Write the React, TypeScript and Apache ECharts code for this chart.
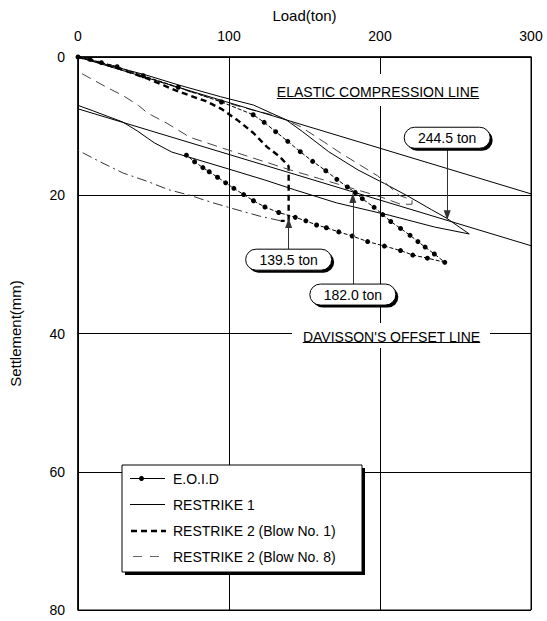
import React, { useEffect, useRef } from 'react';
import * as echarts from 'echarts';

// ---- data (load in ton, settlement in mm) ----
const loadTicks = [0, 100, 200, 300];
const settlementTicks = [0, 20, 40, 60, 80];

const eoidLoading = [
  [0, 0], [7.9, 0.33], [15.5, 0.82], [25.9, 1.4], [43.2, 2.71], [66.4, 4.38], [95, 6.51],
  [116, 8.35], [123.3, 9.45], [130.9, 10.8], [138.9, 12.2], [147.2, 13.7], [155.4, 15.1],
  [164.1, 16.45], [171.4, 17.7], [178.4, 18.8], [183.6, 19.6], [188.3, 20.5], [196.1, 21.75],
  [201.8, 22.8], [207.1, 23.8], [213.6, 24.8], [219.9, 25.8], [225.1, 26.7], [229.9, 27.5],
  [236, 28.5], [242.9, 29.7],
];
const eoidUnloading = [
  [231.4, 29.1], [221.7, 28.65], [213.6, 28.0], [202.9, 27.35], [191.8, 26.7], [181.6, 25.9],
  [172.7, 25.3], [164.5, 24.7], [158, 24.3], [150.9, 23.7], [143.9, 23.2], [132.9, 22.5],
  [123.8, 21.7], [116.2, 20.8], [109.7, 19.9], [103.2, 19.0], [97.8, 18.2], [92.4, 17.4],
  [86.9, 16.6], [82.7, 16.0], [77.2, 15.15], [71.8, 14.2],
];

const restrike1Loading = [
  [0, 0], [19.8, 1.16], [45, 2.6], [66.6, 4.05], [94.5, 5.75], [116.2, 6.95], [137.9, 9.1],
  [148.7, 10.8], [166, 13.7], [185.5, 16.35], [202.9, 18.3], [219.1, 20.2], [234.2, 22.1],
  [244, 23.3], [259.1, 25.6],
];
const restrike1Unloading = [
  [236.2, 24.6], [206.3, 22.9], [171.2, 21.1], [143.3, 19.2], [123.8, 17.8], [99.7, 16.2],
  [78.3, 14.8], [62.1, 13.75], [50.4, 12.4], [39.3, 10.7], [29.6, 9.4], [19.8, 8.6],
  [10.1, 7.8], [0, 7.0],
];

const blow1Loading = [
  [0, 0], [13.3, 0.72], [26.3, 1.6], [45, 3.04], [66.6, 5.0], [84.8, 6.4], [94.9, 7.5],
  [105.4, 9.1], [116.2, 11.0], [125.1, 13.0], [133.5, 14.4], [139.5, 15.8], [139.5, 23.7],
  [134.2, 23.7],
];
const blow1Unloading = [
  [134.2, 23.7], [120, 23.0], [102, 21.9], [88, 21.0], [74, 20.0], [60, 19.2], [46, 18.0],
  [30, 16.8], [15, 15.2], [0, 13.5],
];

const blow8Loading = [
  [0, 0], [19.8, 1.0], [45, 2.9], [66.6, 4.5], [94.5, 6.4], [116, 7.7], [132.4, 8.55],
  [147.6, 10.1], [159.5, 11.8], [173.6, 13.85], [184.4, 15.3], [198.5, 17.2], [212.6, 20.0],
  [221.2, 20.7], [221.2, 21.3], [213.6, 21.3],
];
const blow8Unloading = [
  [213.6, 21.3], [200, 20.2], [180, 18.9], [160, 17.6], [140, 16.3], [120, 14.9], [96, 13.2],
  [74, 11.6], [59, 9.6], [46, 8.1], [40, 7.0], [30, 5.6], [20, 4.5], [10, 3.3], [0, 2.1],
];

const elasticLine = [[0, 0], [300, 19.8]];
const davissonLine = [[0, 7.5], [300, 27.3]];

// failure-load annotations
const annotationLoads = [139.5, 182.0, 244.5];
const annotationLabels = ['139.5 ton', '182.0 ton', '244.5 ton'];
const arrowFrom = [27.8, 32.85, 13.2];
const arrowTo = [24.0, 20.4, 22.9];

const seriesNames = ['E.O.I.D', 'RESTRIKE 1', 'RESTRIKE 2 (Blow No. 1)', 'RESTRIKE 2 (Blow No. 8)'];

const FONT = '"Liberation Sans", Arial, Helvetica, sans-serif';

export default function App() {
  const ref = useRef<HTMLDivElement>(null);

  useEffect(() => {
    const el = ref.current as HTMLDivElement;
    const chart = echarts.init(el, null, { renderer: 'svg' });

    const base = {
      type: 'line',
      showSymbol: false,
      symbol: 'none',
      silent: true,
      emphasis: { disabled: true },
      z: 2,
    };

    const styles = {
      eoid: { color: '#000', width: 1, type: [4, 2] as number[] },
      r1: { color: '#000', width: 1 },
      b1: { color: '#000', width: 2.4, type: [6, 4] as number[] },
      b1u: { color: '#333', width: 1, type: [10, 4, 2, 4] as number[] },
      b8: { color: '#444', width: 1, type: [10, 6] as number[] },
    };

    const option: any = {
      animation: false,
      backgroundColor: '#fff',
      textStyle: { fontFamily: FONT },
      grid: {
        left: 69, right: 16, top: 57, bottom: 11,
        show: true, borderColor: '#000', borderWidth: 1,
      },
      xAxis: {
        type: 'value', position: 'top', min: loadTicks[0], max: loadTicks[loadTicks.length - 1], interval: 100,
        name: 'Load(ton)', nameLocation: 'middle', nameGap: 34,
        nameTextStyle: { fontSize: 15, color: '#000', fontFamily: FONT },
        axisLine: { show: true, onZero: false, lineStyle: { color: '#000', width: 1.5 } },
        axisTick: { show: false },
        axisLabel: { fontSize: 14, color: '#000', margin: 14, fontFamily: FONT },
        splitLine: { show: true, lineStyle: { color: '#000', width: 1 } },
      },
      yAxis: {
        type: 'value', inverse: true, min: settlementTicks[0], max: settlementTicks[settlementTicks.length - 1], interval: 20,
        name: 'Settlement(mm)', nameLocation: 'middle', nameGap: 55, nameRotate: 90,
        nameTextStyle: { fontSize: 15, color: '#000', fontFamily: FONT },
        axisLine: { show: true, onZero: false, lineStyle: { color: '#000', width: 1.5 } },
        axisTick: { show: false },
        axisLabel: { fontSize: 14, color: '#000', margin: 13, fontFamily: FONT },
        splitLine: { show: true, lineStyle: { color: '#000', width: 1 } },
      },
      series: [
        {
          ...base, name: seriesNames[0],
          data: [...eoidLoading, ...eoidUnloading],
          showSymbol: true, symbol: 'circle', symbolSize: 5,
          itemStyle: { color: '#000' },
          lineStyle: styles.eoid,
          z: 3,
        },
        {
          ...base, name: seriesNames[1],
          data: [...restrike1Loading, ...restrike1Unloading],
          lineStyle: styles.r1,
        },
        {
          ...base, name: seriesNames[2],
          data: blow1Loading,
          lineStyle: styles.b1,
        },
        {
          ...base, name: seriesNames[2] + ' unloading',
          data: blow1Unloading,
          lineStyle: styles.b1u,
        },
        {
          ...base, name: seriesNames[3],
          data: [...blow8Loading, ...blow8Unloading],
          lineStyle: styles.b8,
        },
        {
          ...base, name: 'Elastic compression line',
          data: elasticLine,
          lineStyle: { color: '#000', width: 1 },
        },
        {
          ...base, name: "Davisson's offset line",
          data: davissonLine,
          lineStyle: { color: '#000', width: 1 },
          markLine: {
            silent: true,
            animation: false,
            symbol: ['none', 'triangle'],
            symbolSize: [7, 10],
            label: { show: false },
            emphasis: { disabled: true },
            lineStyle: { color: '#333', width: 1, type: 'solid' },
            data: annotationLoads.map((l, i) => [
              { coord: [l, arrowFrom[i]] },
              { coord: [l, arrowTo[i]] },
            ]),
          },
        },
      ],
    };

    chart.setOption(option);

    const toPx = (p: number[]) => chart.convertToPixel({ gridIndex: 0 }, p) as number[];

    const graphics: any[] = [];

    // ---- legend (drawn) ----
    const lg = { x: 122, y: 465, w: 240, h: 107 };
    graphics.push({
      type: 'rect', z: 20, silent: true,
      shape: { x: lg.x + 3, y: lg.y + 3, width: lg.w, height: lg.h },
      style: { fill: '#000' },
    });
    graphics.push({
      type: 'rect', z: 21, silent: true,
      shape: { x: lg.x, y: lg.y, width: lg.w, height: lg.h },
      style: { fill: '#fff', stroke: '#000', lineWidth: 1 },
    });
    const rows = [478.5, 504.5, 531, 556.5];
    const iconStyles = [
      { x1: 130, x2: 165, stroke: '#000', lineWidth: 1, dash: null as any },
      { x1: 130, x2: 165, stroke: '#000', lineWidth: 1, dash: null as any },
      { x1: 131, x2: 166, stroke: '#000', lineWidth: 2.4, dash: [6, 4] },
      { x1: 133, x2: 159, stroke: '#666', lineWidth: 1, dash: [9, 8] },
    ];
    seriesNames.forEach((n, i) => {
      const s = iconStyles[i];
      graphics.push({
        type: 'line', z: 22, silent: true,
        shape: { x1: s.x1, y1: rows[i], x2: s.x2, y2: rows[i] },
        style: { stroke: s.stroke, lineWidth: s.lineWidth, lineDash: s.dash },
      });
      if (i === 0) {
        graphics.push({
          type: 'circle', z: 23, silent: true,
          shape: { cx: 141.5, cy: rows[i], r: 2.5 },
          style: { fill: '#000' },
        });
      }
      graphics.push({
        type: 'text', z: 23, silent: true,
        x: 173, y: rows[i],
        style: {
          text: n, fill: '#000', font: `14px ${FONT}`,
          align: 'left', verticalAlign: 'middle',
        },
      });
    });

    // ---- pill annotation boxes ----
    annotationLoads.forEach((l, i) => {
      const p = toPx([l, arrowFrom[i]]);
      const w = 86, h = 21;
      const above = arrowFrom[i] < arrowTo[i];
      const x = p[0] - w / 2;
      const y = above ? p[1] - h : p[1];
      graphics.push({
        type: 'rect', z: 10, silent: true,
        shape: { x: x + 2.5, y: y + 2.5, width: w, height: h, r: h / 2 },
        style: { fill: '#000' },
      });
      graphics.push({
        type: 'rect', z: 11, silent: true,
        shape: { x, y, width: w, height: h, r: h / 2 },
        style: { fill: '#fff', stroke: '#000', lineWidth: 1 },
      });
      graphics.push({
        type: 'text', z: 12, silent: true,
        x: p[0], y: y + h / 2 + 0.5,
        style: {
          text: annotationLabels[i], fill: '#000', font: `14px ${FONT}`,
          align: 'center', verticalAlign: 'middle',
        },
      });
    });

    // ---- line captions (underlined, on white) ----
    const captions = [
      { text: 'ELASTIC COMPRESSION LINE', cx: 378, cy: 92, ul: 98.5, bx: 268, by: 74, bw: 222, bh: 32 },
      { text: "DAVISSON'S OFFSET LINE", cx: 391.5, cy: 336.5, ul: 342.5, bx: 292, by: 323, bw: 198, bh: 25 },
    ];
    const ctx = document.createElement('canvas').getContext('2d');
    captions.forEach((c) => {
      graphics.push({
        type: 'rect', z: 10, silent: true,
        shape: { x: c.bx, y: c.by, width: c.bw, height: c.bh },
        style: { fill: '#fff' },
      });
      graphics.push({
        type: 'text', z: 11, silent: true,
        x: c.cx, y: c.cy,
        style: {
          text: c.text, fill: '#000', font: `14px ${FONT}`,
          align: 'center', verticalAlign: 'middle',
        },
      });
      let w = c.text.length * 8.5;
      if (ctx) {
        ctx.font = `14px ${FONT}`;
        w = ctx.measureText(c.text).width;
      }
      graphics.push({
        type: 'line', z: 12, silent: true,
        shape: { x1: c.cx - w / 2, y1: c.ul, x2: c.cx + w / 2, y2: c.ul },
        style: { stroke: '#000', lineWidth: 1 },
      });
    });

    chart.setOption({ graphic: graphics });

    return () => {
      chart.dispose();
    };
  }, []);

  return (
    <div
      ref={ref}
      style={{ position: 'fixed', left: 0, top: 0, width: 547, height: 621, background: '#fff' }}
    />
  );
}
